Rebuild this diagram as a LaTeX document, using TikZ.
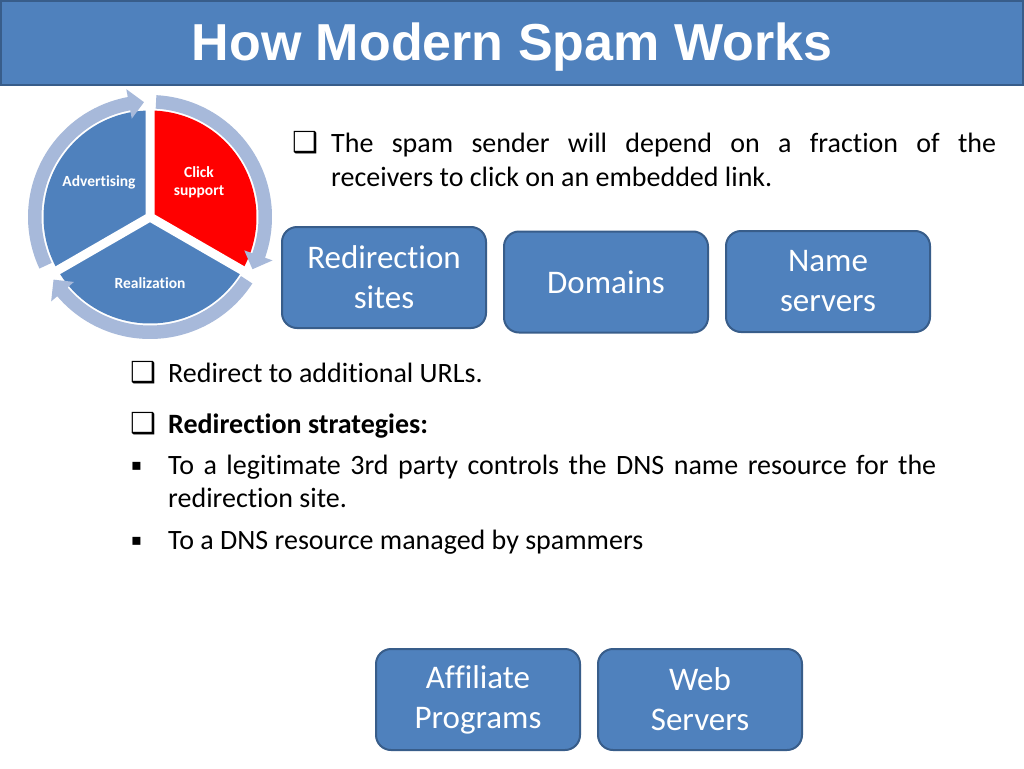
\documentclass[tikz,border=0pt]{standalone}
\usepackage{fontspec}
\setmainfont{Carlito}[Ligatures={NoCommon,NoContextual,NoRequired},Contextuals=NoAlternate]
\newfontfamily\titlefont{Liberation Sans}
\newfontfamily\symfont{DejaVu Sans}
\definecolor{accent}{HTML}{4F81BD}
\definecolor{accentdark}{HTML}{385D8A}
\definecolor{ringc}{HTML}{A7B9DA}
\definecolor{clickred}{HTML}{FF0000}
\newcommand{\ringarrow}[2]{%
  \pgfmathsetmacro{\hb}{#2+7.5}%
  \fill[ringc] (#1:122) arc[start angle=#1, end angle=\hb, radius=122]
    -- (\hb:130) -- (#2:115) -- (\hb:100) -- (\hb:108.5)
    arc[start angle=\hb, end angle=#1, radius=108.5] -- cycle;}
\begin{document}
\begin{tikzpicture}[x=1pt,y=-1pt,
  titlebar/.style={draw=accentdark, line width=2, fill=accent},
  box/.style={draw=accentdark, line width=2, fill=accent, rounded corners=15,
    minimum width=204, minimum height=101, inner sep=0, text=white, align=center,
    font=\fontsize{33}{40}\selectfont},
  body/.style={anchor=base west, inner sep=0, font=\fontsize{28}{34}\selectfont},
  sym/.style={anchor=base west, inner sep=0, font=\symfont\fontsize{29}{29}\selectfont},
  sqb/.style={anchor=base west, inner sep=0, font=\symfont\fontsize{16}{16}\selectfont},
  seglabel/.style={text=white, inner sep=0, align=center, font=\bfseries\fontsize{15.5}{18}\selectfont}]
\useasboundingbox[fill=white] (0,0) rectangle (1024,768);
% title bar
\draw[titlebar] (1,1) rectangle (1023,85);
\node[text=white, inner sep=0] (title) at (512,47) {\titlefont\bfseries\fontsize{52}{60}\selectfont How Modern Spam Works};
% cycle diagram
\begin{scope}[shift={(150,217)}, yscale=-1]
  \fill[accent] (0,0) -- (90:106.5) arc[start angle=90, end angle=210, radius=106.5] -- cycle;
  \fill[accent] (0,0) -- (210:106.5) arc[start angle=210, end angle=330, radius=106.5] -- cycle;
  \fill[clickred] (0,0) -- (-30:106.5) arc[start angle=-30, end angle=90, radius=106.5] -- cycle;
  \draw[white, line width=9] (0,0) -- (90:108) (0,0) -- (210:108) (0,0) -- (330:108);
  \ringarrow{205}{93}
  \ringarrow{87}{-27}
  \ringarrow{-33}{-147}
\end{scope}
\node[seglabel] (adv) at (99,182) {Advertising};
\node[seglabel] (click) at (199,182) {Click\\support};
\node[seglabel] (real) at (150,283) {Realization};
% top text
\node[sym] (b1) at (292,152) {❑};
\node[body] (t1) at (331,152) {\makebox[665pt][s]{The spam sender will depend on a fraction of the}};
\node[body] (t2) at (331,186) {receivers to click on an embedded link.};
% boxes
\node[box] (redir) at (384,277.5) {Redirection\\sites};
\node[box] (domains) at (606,282) {Domains};
\node[box] (names) at (828,281.5) {Name\\servers};
\node[box] (affil) at (478,699.5) {Affiliate\\Programs};
\node[box] (web) at (700,699.5) {Web\\Servers};
% lower text
\node[sym] (b2) at (130,382) {❑};
\node[body] (t3) at (168,382) {Redirect to additional URLs.};
\node[sym] (b3) at (130,433) {❑};
\node[body] (t4) at (168,433) {\bfseries Redirection strategies:};
\node[sqb] (b4) at (131,470) {▪};
\node[body] (t5) at (168,474) {\makebox[768pt][s]{To a legitimate 3rd party controls the DNS name resource for the}};
\node[body] (t6) at (168,507) {redirection site.};
\node[sqb] (b5) at (131,545) {▪};
\node[body] (t7) at (168,549) {To a DNS resource managed by spammers};
\end{tikzpicture}
\end{document}
